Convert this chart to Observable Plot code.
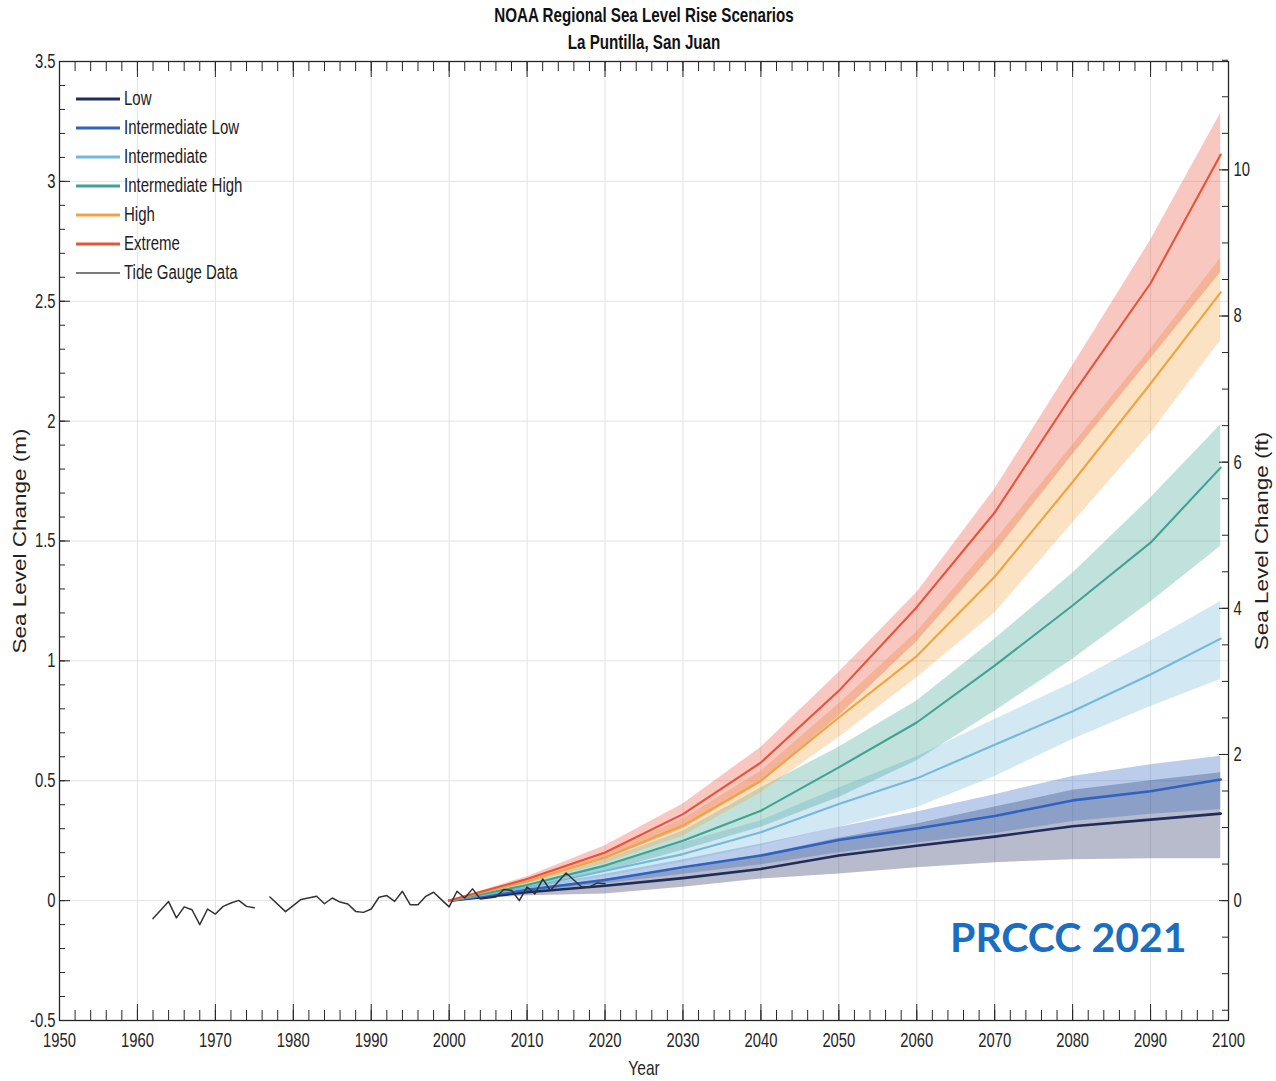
<!DOCTYPE html>
<html><head><meta charset="utf-8">
<script src="https://cdn.jsdelivr.net/npm/d3@7"></script>
<script src="https://cdn.jsdelivr.net/npm/@observablehq/plot@0.6"></script>
<style>
body{margin:0;background:#fff;}
#wrap{position:relative;width:1276px;height:1081px;overflow:hidden;}
#legend{position:absolute;left:76px;top:84px;font-family:"Liberation Sans",Arial,sans-serif;font-size:20px;color:#222;}
#legend .row{height:29px;display:flex;align-items:center;}
#legend svg{margin-right:4px;flex:none;}
#legend span{display:inline-block;transform:scaleX(0.75);transform-origin:0 50%;white-space:nowrap;}
#mark{position:absolute;left:950px;top:912px;font-family:Lato,"Open Sans",sans-serif;font-weight:700;font-size:41px;color:#1a6ec2;white-space:nowrap;}
</style></head><body><div id="wrap"></div>
<script>
// ---- Scenario data (m), relative to 2000 ----
const years = [2000, 2010, 2020, 2030, 2040, 2050, 2060, 2070, 2080, 2090, 2099];

const lowMid  = [0, 0.035, 0.062, 0.094, 0.132, 0.188, 0.229, 0.267, 0.310, 0.338, 0.363];
const lowLo   = [0, 0.020, 0.028, 0.056, 0.090, 0.111, 0.137, 0.158, 0.171, 0.175, 0.175];
const lowHi   = [0, 0.045, 0.090, 0.130, 0.190, 0.260, 0.320, 0.390, 0.460, 0.500, 0.533];

const intLowMid = [0, 0.045, 0.086, 0.139, 0.188, 0.253, 0.301, 0.353, 0.418, 0.456, 0.505];
const intLowLo  = [0, 0.035, 0.070, 0.110, 0.150, 0.200, 0.240, 0.280, 0.330, 0.360, 0.380];
const intLowHi  = [0, 0.055, 0.110, 0.170, 0.236, 0.306, 0.370, 0.442, 0.518, 0.567, 0.602];

const intMid = [0, 0.055, 0.125, 0.194, 0.285, 0.403, 0.510, 0.650, 0.790, 0.943, 1.093];
const intLo  = [0, 0.045, 0.100, 0.160, 0.229, 0.306, 0.387, 0.518, 0.672, 0.810, 0.922];
const intHi  = [0, 0.065, 0.150, 0.240, 0.333, 0.470, 0.600, 0.755, 0.908, 1.082, 1.248];

const intHighMid = [0, 0.065, 0.146, 0.250, 0.375, 0.556, 0.743, 0.980, 1.231, 1.493, 1.806];
const intHighLo  = [0, 0.055, 0.120, 0.210, 0.306, 0.430, 0.583, 0.790, 1.007, 1.246, 1.478];
const intHighHi  = [0, 0.075, 0.170, 0.290, 0.470, 0.640, 0.833, 1.090, 1.366, 1.679, 1.985];

const highMid = [0, 0.080, 0.180, 0.313, 0.500, 0.764, 1.020, 1.351, 1.746, 2.157, 2.537];
const highLo  = [0, 0.070, 0.155, 0.270, 0.450, 0.680, 0.930, 1.200, 1.575, 1.948, 2.336];
const highHi  = [0, 0.090, 0.200, 0.340, 0.540, 0.820, 1.120, 1.500, 1.900, 2.300, 2.680];

const extMid = [0, 0.090, 0.201, 0.361, 0.576, 0.875, 1.224, 1.619, 2.112, 2.575, 3.112];
const extLo  = [0, 0.080, 0.170, 0.300, 0.490, 0.770, 1.080, 1.450, 1.860, 2.260, 2.620];
const extHi  = [0, 0.100, 0.229, 0.403, 0.639, 0.951, 1.284, 1.716, 2.231, 2.754, 3.284];

// ---- Tide gauge (annual, m) ----
const gaugeYears = [1962,1964,1965,1966,1967,1968,1969,1970,1971,1972,1973,1974,1975,1976,
  1977,1979,1981,1983,1984,1985,1986,1987,1988,1989,1990,1991,1992,1993,1994,1995,1996,1997,1998,1999,
  2000,2001,2002,2003,2004,2006,2007,2008,2009,2010,2011,2012,2013,2015,2017,2018,2019,2020];
const gaugeValues = [-0.075,-0.004,-0.072,-0.026,-0.038,-0.100,-0.035,-0.056,-0.024,-0.010,0.001,-0.024,-0.030,null,
  0.015,-0.046,0.005,0.018,-0.013,0.011,-0.006,-0.014,-0.045,-0.049,-0.035,0.014,0.021,-0.003,0.039,-0.017,-0.017,0.018,0.035,0.004,
  -0.026,0.039,0.011,0.049,0.007,0.015,0.046,0.043,0.000,0.057,0.028,0.090,0.043,0.115,0.057,0.057,0.074,0.070];

// ---- Labels ----
const scenarioNames = ["Low","Intermediate Low","Intermediate","Intermediate High","High","Extreme"];
const scenarioColors = ["#1f2d5c","#2f63c2","#72b9da","#3fa393","#f0a441","#e8523a"];
const gaugeName = "Tide Gauge Data";
const titleLines = ["NOAA Regional Sea Level Rise Scenarios","La Puntilla, San Juan"];
const xTicks = d3.range(1950, 2101, 10);
const yTicks = [-0.5, 0, 0.5, 1, 1.5, 2, 2.5, 3, 3.5];
const ftTicks = [0, 2, 4, 6, 8, 10];
const FT = 0.3048;

// ---- Build tables ----
const series = [
  [lowMid, lowLo, lowHi],
  [intLowMid, intLowLo, intLowHi],
  [intMid, intLo, intHi],
  [intHighMid, intHighLo, intHighHi],
  [highMid, highLo, highHi],
  [extMid, extLo, extHi]
];
const rows = [];
series.forEach(([m, lo, hi], i) => years.forEach((yr, j) =>
  rows.push({name: scenarioNames[i], year: yr, mid: m[j], lo: lo[j], hi: hi[j]})));
const gauge = gaugeYears.map((y, i) => ({year: y, value: gaugeValues[i] == null ? NaN : gaugeValues[i]}));

const W = 1276, H = 1081, mL = 59, mR = 48, mT = 61, mB = 61;
const pw = W - mL - mR, ph = H - mT - mB;
const ink = "#262626";

const marks = [
  Plot.gridX(xTicks, {stroke: "#e3e3e3", strokeOpacity: 1}),
  Plot.gridY(yTicks, {stroke: "#e3e3e3", strokeOpacity: 1}),
];
scenarioNames.forEach((n, i) => {
  marks.push(Plot.areaY(rows.filter(d => d.name === n), {x: "year", y1: "lo", y2: "hi", fill: scenarioColors[i], fillOpacity: 0.32}));
});
scenarioNames.forEach((n, i) => {
  marks.push(Plot.line(rows.filter(d => d.name === n), {x: "year", y: "mid", stroke: scenarioColors[i], strokeWidth: i < 2 ? 2.6 : 2.1}));
});
marks.push(Plot.line(gauge, {x: "year", y: "value", stroke: "#333", strokeWidth: 1.5}));

// ticks (inward, MATLAB style)
const minorYears = d3.range(1950, 2101, 2);
const minorM = d3.range(-5, 36).map(d => d / 10);
const minorFt = d3.range(-3, 24).map(d => d / 2);
marks.push(
  Plot.tickX(minorYears, {x: d => d, insetTop: ph - 10, stroke: ink}),
  Plot.tickX(xTicks, {x: d => d, insetTop: ph - 16, stroke: ink}),
  Plot.tickX(minorYears, {x: d => d, insetBottom: ph - 10, stroke: ink}),
  Plot.tickX(xTicks, {x: d => d, insetBottom: ph - 16, stroke: ink}),
  Plot.tickY(minorM, {y: d => d, insetRight: pw - 6, stroke: ink}),
  Plot.tickY(yTicks, {y: d => d, insetRight: pw - 11, stroke: ink}),
  Plot.tickY(minorFt.map(f => f * FT), {y: d => d, insetLeft: pw - 6, stroke: ink}),
  Plot.tickY(ftTicks.map(f => f * FT), {y: d => d, insetLeft: pw - 9, stroke: ink}),
  Plot.frame({stroke: ink, strokeWidth: 1.3}),
  Plot.axisX(xTicks, {anchor: "bottom", label: null, tickSize: 0, tickPadding: 12, tickFormat: d => String(d), fontSize: 20, fill: ink}),
  Plot.axisY(yTicks, {anchor: "left", label: null, tickSize: 0, tickPadding: 4, tickFormat: d => String(d), fontSize: 20, fill: ink}),
  Plot.axisY(ftTicks.map(f => f * FT), {anchor: "right", label: null, tickSize: 0, tickPadding: 5, tickFormat: d => String(Math.round(d / FT)), fontSize: 20, fill: ink}),
  Plot.text(["Sea Level Change (m)"], {text: d => d, frameAnchor: "left", textAnchor: "middle", dx: -39, rotate: -90, fontSize: 22.5, fill: "#222"}),
  Plot.text(["Sea Level Change (ft)"], {text: d => d, frameAnchor: "right", textAnchor: "middle", dx: 34, rotate: -90, fontSize: 22.5, fill: "#222"}),
  Plot.text(["Year"], {text: d => d, frameAnchor: "bottom", dy: 54, fontSize: 21, fill: ink}),
  Plot.text([titleLines[0]], {text: d => d, frameAnchor: "top", dy: -54, fontSize: 20.5, fontWeight: "bold", fill: "#111"}),
  Plot.text([titleLines[1]], {text: d => d, frameAnchor: "top", dy: -27, fontSize: 20.5, fontWeight: "bold", fill: "#111"})
);

const chart = Plot.plot({
  width: W, height: H,
  marginLeft: mL, marginRight: mR, marginTop: mT, marginBottom: mB,
  x: {domain: [1950, 2100]},
  y: {domain: [-0.5, 3.5]},
  style: {fontFamily: '"Liberation Sans",Arial,sans-serif', background: "#fff"},
  marks
});
const wrap = document.getElementById("wrap");
wrap.appendChild(chart);

// narrow the text (the reference uses a condensed face)
const rotatedLabels = new Set(["Sea Level Change (m)", "Sea Level Change (ft)"]);
chart.querySelectorAll("text").forEach(t => {
  if (rotatedLabels.has(t.textContent)) {
    const tr = t.getAttribute("transform");
    if (tr && tr.includes("rotate")) t.setAttribute("transform", tr.replace(/rotate\(/, "scale(0.8,1) rotate("));
    return;
  }
  const len = t.getComputedTextLength();
  if (len > 0) {
    t.setAttribute("textLength", (len * 0.74).toFixed(2));
    t.setAttribute("lengthAdjust", "spacingAndGlyphs");
  }
});

// legend
const leg = document.createElement("div");
leg.id = "legend";
const legItems = scenarioNames.map((n, i) => ({n, c: scenarioColors[i], w: 3})).concat([{n: gaugeName, c: "#7a7a7a", w: 2}]);
legItems.forEach(it => {
  const r = document.createElement("div");
  r.className = "row";
  r.innerHTML = `<svg width="44" height="10"><line x1="0" x2="44" y1="5" y2="5" stroke="${it.c}" stroke-width="${it.w}"/></svg><span>${it.n}</span>`;
  leg.appendChild(r);
});
wrap.appendChild(leg);

const mk = document.createElement("div");
mk.id = "mark";
mk.textContent = "PRCCC 2021";
wrap.appendChild(mk);
</script>
</body></html>
